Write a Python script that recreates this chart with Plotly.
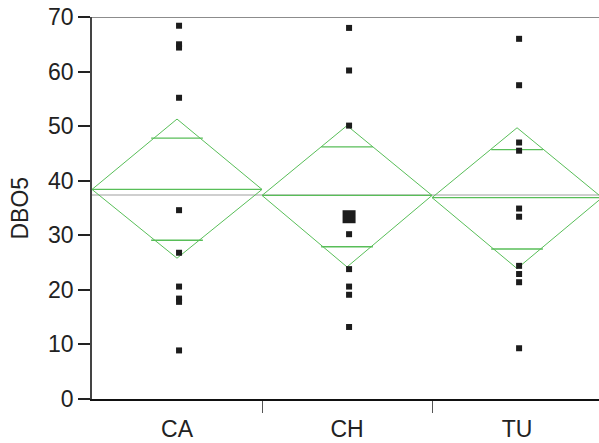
import plotly.graph_objects as go

# Groups and observed DBO5 values
groups = ["CA", "CH", "TU"]
ca_values = [68.4, 65.0, 64.4, 55.2, 34.6, 26.8, 20.6, 18.4, 17.8, 8.9]
ch_values = [68.0, 60.2, 50.1, 30.2, 23.8, 20.6, 19.1, 13.2]
ch_large = [33.4]
tu_values = [66.0, 57.5, 47.0, 45.5, 34.9, 33.4, 24.4, 22.9, 21.4, 9.3]

# Means diamonds: group mean, 95% CI bounds, overlap marks
means = [38.4, 37.3, 36.9]
ci_upper = [51.3, 50.1, 49.7]
ci_lower = [25.8, 24.2, 23.9]
overlap_upper = [47.8, 46.2, 45.7]
overlap_lower = [29.1, 27.9, 27.5]
grand_mean = 37.4

y_ticks = [0, 10, 20, 30, 40, 50, 60, 70]

GREEN = "rgb(88,190,88)"
POINT = "#1c1c1c"
FONT = "Liberation Sans, Arial, sans-serif"

fig = go.Figure()

# grand mean reference line
fig.add_trace(go.Scatter(
    x=[-0.5, 2.5], y=[grand_mean, grand_mean], mode="lines",
    line=dict(color="#cfcfcf", width=2), hoverinfo="skip", showlegend=False))

for i, g in enumerate(groups):
    c = i
    # diamond outline
    fig.add_trace(go.Scatter(
        x=[c - 0.5, c, c + 0.5, c, c - 0.5],
        y=[means[i], ci_upper[i], means[i], ci_lower[i], means[i]],
        mode="lines", line=dict(color=GREEN, width=1),
        hoverinfo="skip", showlegend=False))
    # mean line across the group
    fig.add_trace(go.Scatter(
        x=[c - 0.5, c + 0.5], y=[means[i], means[i]],
        mode="lines", line=dict(color=GREEN, width=1.3),
        hoverinfo="skip", showlegend=False))
    # overlap marks
    for v in (overlap_upper[i], overlap_lower[i]):
        fig.add_trace(go.Scatter(
            x=[c - 0.152, c + 0.152], y=[v, v],
            mode="lines", line=dict(color=GREEN, width=1.4),
            hoverinfo="skip", showlegend=False))

# individual observations
offset = 0.012
for i, vals in enumerate([ca_values, ch_values, tu_values]):
    fig.add_trace(go.Scatter(
        x=[i + offset] * len(vals), y=vals, mode="markers",
        marker=dict(symbol="square", size=6, color=POINT),
        showlegend=False))
fig.add_trace(go.Scatter(
    x=[1 + offset] * len(ch_large), y=ch_large, mode="markers",
    marker=dict(symbol="square", size=13, color=POINT),
    showlegend=False))

fig.update_layout(
    width=599, height=443,
    margin=dict(l=92, r=0, t=17, b=44),
    paper_bgcolor="white", plot_bgcolor="white",
    font=dict(family=FONT, size=23, color="#222222"),
    xaxis=dict(
        range=[-0.5, 2.482],
        tickmode="array", tickvals=[0, 1, 2], ticktext=groups,
        ticks="outside", ticklen=9, tickcolor="rgba(0,0,0,0)",
        minor=dict(tickmode="array", tickvals=[0.5, 1.5], ticks="outside",
                   ticklen=12, tickcolor="#555555", tickwidth=1),
        showline=True, linecolor="#111111", linewidth=1.5,
        showgrid=False, zeroline=False, fixedrange=True),
    yaxis=dict(
        range=[0, 70],
        tickmode="array", tickvals=y_ticks,
        ticks="outside", ticklen=12, tickwidth=2, tickcolor="#222222",
        ticklabelstandoff=0,
        showline=True, linecolor="#444444", linewidth=1.5,
        showgrid=False, zeroline=False, fixedrange=True),
    annotations=[dict(text="DBO5", textangle=-90, xref="paper", yref="paper",
                      x=-72.5 / 507, y=0.5, xanchor="center", yanchor="middle",
                      showarrow=False, font=dict(size=23))],
    shapes=[dict(type="line", xref="paper", yref="y", x0=0, x1=1, y0=70, y1=70,
                 line=dict(color="#666666", width=1.5))],
)

fig.write_html("out.html")
